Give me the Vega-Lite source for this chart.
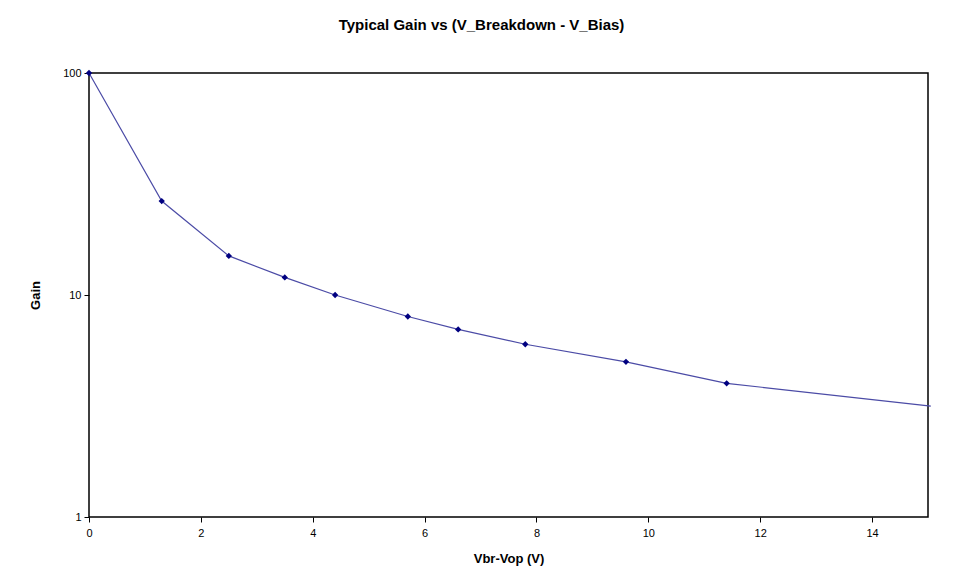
{
  "$schema": "https://vega.github.io/schema/vega-lite/v6.json",
  "width": 839,
  "height": 444,
  "autosize": {"type": "none"},
  "padding": {"left": 89, "top": 73, "right": 35, "bottom": 60},
  "background": "white",
  "title": {
    "text": "Typical Gain vs (V_Breakdown - V_Bias)",
    "font": "Liberation Sans",
    "fontSize": 15,
    "fontWeight": "bold",
    "color": "#000000",
    "anchor": "middle",
    "dx": -27,
    "offset": 34
  },
  "config": {
    "view": {"stroke": "#000000", "strokeWidth": 1.5},
    "axis": {
      "grid": false,
      "domain": false,
      "tickColor": "#000000",
      "tickSize": 5,
      "labelFont": "Liberation Sans",
      "labelFontSize": 11,
      "labelColor": "#000000",
      "labelFlush": false,
      "titleFont": "Liberation Sans",
      "titleFontSize": 13,
      "titleFontWeight": "bold",
      "titleColor": "#000000"
    }
  },
  "data": {
    "values": [
      {"v": 0, "gain": 100},
      {"v": 1.3, "gain": 26.5},
      {"v": 2.5, "gain": 15},
      {"v": 3.5, "gain": 12},
      {"v": 4.4, "gain": 10},
      {"v": 5.7, "gain": 8},
      {"v": 6.6, "gain": 7},
      {"v": 7.8, "gain": 6},
      {"v": 9.6, "gain": 5},
      {"v": 11.4, "gain": 4},
      {"v": 15.05, "gain": 3.16}
    ]
  },
  "encoding": {
    "x": {
      "field": "v",
      "type": "quantitative",
      "scale": {"domain": [0, 15], "nice": false},
      "axis": {
        "title": "Vbr-Vop (V)",
        "values": [0, 2, 4, 6, 8, 10, 12, 14],
        "labelPadding": 5,
        "titlePadding": 14
      }
    },
    "y": {
      "field": "gain",
      "type": "quantitative",
      "scale": {"type": "log", "domain": [1, 100], "nice": false},
      "axis": {
        "title": "Gain",
        "values": [1, 10, 100],
        "format": "d",
        "labelPadding": 3,
        "titlePadding": 20
      }
    }
  },
  "layer": [
    {
      "mark": {"type": "line", "color": "#4b4ba6", "strokeWidth": 1.2, "clip": false}
    },
    {
      "transform": [{"filter": "datum.v < 15"}],
      "mark": {"type": "point", "shape": "diamond", "filled": true, "color": "#000080", "size": 40, "opacity": 1}
    }
  ]
}
